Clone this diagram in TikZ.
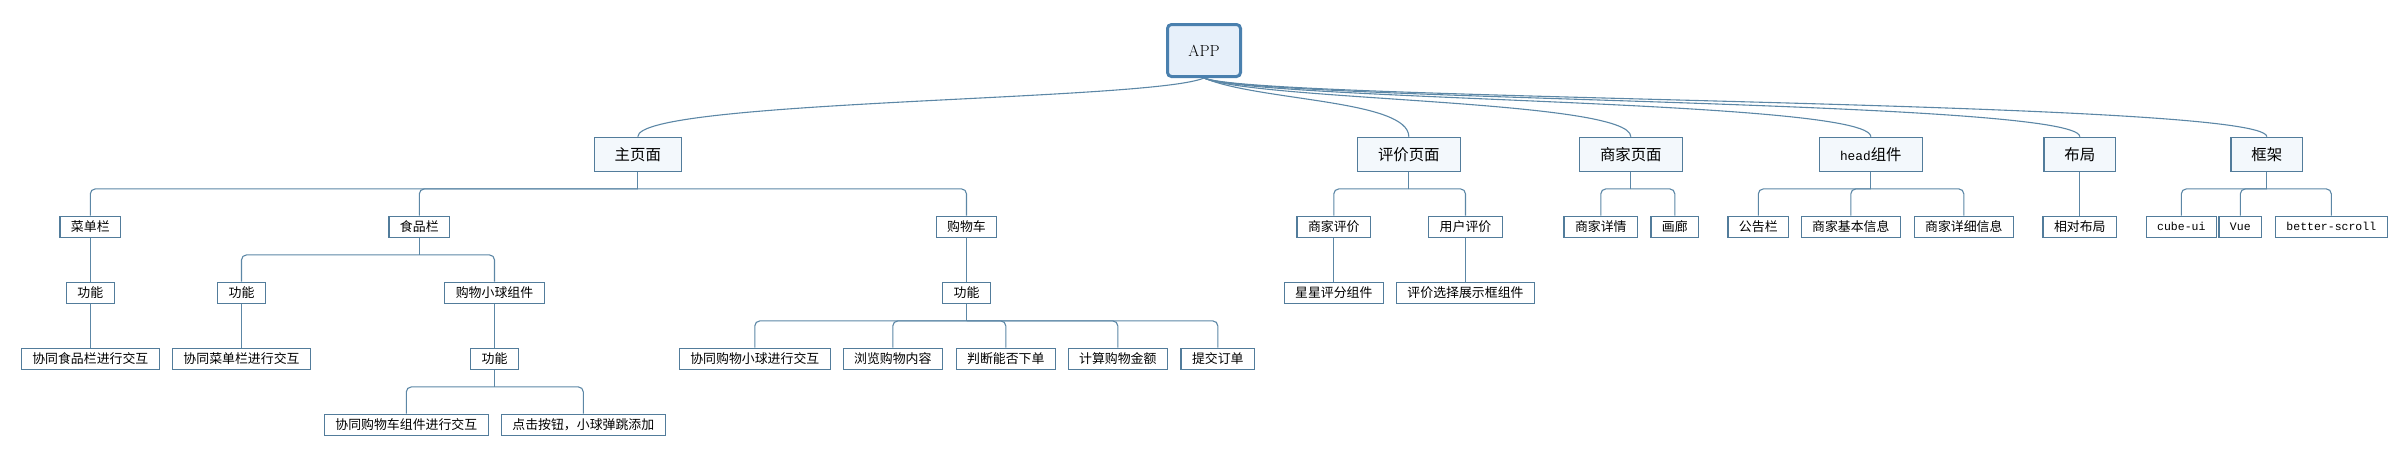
\documentclass[tikz,border=0pt]{standalone}
\usepackage{fontspec}
\newfontfamily\cjk{Noto Sans CJK SC}
\newfontfamily\mono{Liberation Mono}
\usepackage{tikz}
\usetikzlibrary{positioning, backgrounds}
\definecolor{linec}{HTML}{5C87A6}
\definecolor{boxc}{HTML}{527C9B}
\definecolor{rootc}{HTML}{4A80AE}
\definecolor{rootf}{HTML}{E7F0FA}
\definecolor{pagef}{HTML}{F3F8FC}

\begin{document}
\begin{tikzpicture}[x=1pt, y=-1pt,
    rt/.style={draw=rootc, fill=rootf, line width=3pt, rounded corners=4pt, minimum width=73pt, minimum height=52pt, inner sep=0pt, font=\fontsize{16}{18}\selectfont},
    pg/.style={draw=boxc, fill=pagef, line width=1.2pt, minimum height=34pt, inner xsep=20.5pt, inner ysep=0pt, font=\cjk\fontsize{15.4}{17}\selectfont},
    itm/.style={draw=boxc, fill=white, line width=1.2pt, minimum height=21pt, inner xsep=11pt, inner ysep=0pt, font=\cjk\fontsize{12.9}{15}\selectfont},
    lat/.style={itm, font=\mono\fontsize{11.5}{14}\selectfont},
    lnk/.style={draw=linec, line width=1.1pt, rounded corners=5pt},
    crv/.style={draw=linec, line width=1.1pt}]
    \useasboundingbox (0,0) rectangle (2408,456);
    \node[rt] (app) at (1204,50.5) {APP};
    \node[pg] (zhuye) at (637.8,154.3) {主页面};
    \node[pg] (pingjia) at (1408.8,154.3) {评价页面};
    \node[pg] (shangjia) at (1630.8,154.3) {商家页面};
    \node[pg, minimum width=103pt, inner xsep=0pt] (headc) at (1870.8,154.3) {{\mono\fontsize{12.8}{15}\selectfont head}组件};
    \node[pg] (buju) at (2079.8,154.3) {布局};
    \node[pg] (kuangjia) at (2266.8,154.3) {框架};
    \node[itm] (caidan) at (90.3,226.8) {菜单栏};
    \node[itm] (gn1) at (90.3,292.8) {功能};
    \node[itm] (xt1) at (90.3,358.8) {协同食品栏进行交互};
    \node[itm] (shipin) at (419.3,226.8) {食品栏};
    \node[itm] (gn2) at (241.5,292.8) {功能};
    \node[itm] (xt2) at (241.5,358.8) {协同菜单栏进行交互};
    \node[itm] (xiaoqiu) at (494.5,292.8) {购物小球组件};
    \node[itm] (gn4) at (494.5,358.8) {功能};
    \node[itm] (xt4) at (406.3,424.8) {协同购物车组件进行交互};
    \node[itm] (dianji) at (583.3,424.8) {点击按钮，小球弹跳添加};
    \node[itm] (gouwuche) at (966.5,226.8) {购物车};
    \node[itm] (gn3) at (966.5,292.8) {功能};
    \node[itm] (xt3) at (754.8,358.8) {协同购物小球进行交互};
    \node[itm] (liulan) at (892.8,358.8) {浏览购物内容};
    \node[itm] (panduan) at (1005.8,358.8) {判断能否下单};
    \node[itm] (jisuan) at (1117.8,358.8) {计算购物金额};
    \node[itm] (tijiao) at (1217.8,358.8) {提交订单};
    \node[itm] (sjpj) at (1333.8,226.8) {商家评价};
    \node[itm] (xingxing) at (1333.8,292.8) {星星评分组件};
    \node[itm] (yhpj) at (1465.5,226.8) {用户评价};
    \node[itm] (xuanze) at (1465.5,292.8) {评价选择展示框组件};
    \node[itm] (sjxq) at (1600.8,226.8) {商家详情};
    \node[itm] (hualang) at (1674.8,226.8) {画廊};
    \node[itm] (gonggao) at (1758.3,226.8) {公告栏};
    \node[itm] (jiben) at (1850.8,226.8) {商家基本信息};
    \node[itm] (xiangxi) at (1963.8,226.8) {商家详细信息};
    \node[itm] (xiangdui) at (2079.8,226.8) {相对布局};
    \node[lat] (cube) at (2181.3,226.8) {cube-ui};
    \node[lat] (vue) at (2240.3,226.8) {Vue};
    \node[lat] (bscroll) at (2331.3,226.8) {better-scroll};
    \begin{scope}[on background layer]
    \draw[crv] (app.south) .. controls +(-54,23) and +(0,-37) .. (zhuye.north);
    \draw[crv] (app.south) .. controls +(54,23) and +(0,-37) .. (pingjia.north);
    \draw[crv] (app.south) .. controls +(54,23) and +(0,-37) .. (shangjia.north);
    \draw[crv] (app.south) .. controls +(54,23) and +(0,-37) .. (headc.north);
    \draw[crv] (app.south) .. controls +(54,23) and +(0,-37) .. (buju.north);
    \draw[crv] (app.south) .. controls +(54,23) and +(0,-37) .. (kuangjia.north);
    \draw[lnk] (zhuye.south) -- ++(0,17) coordinate (zb);
    \draw[lnk] (zb) -| (caidan.north);
    \draw[lnk] (zb) -| (shipin.north);
    \draw[lnk] (zb) -| (gouwuche.north);
    \draw[lnk] (caidan) -- (gn1);
    \draw[lnk] (gn1) -- (xt1);
    \draw[lnk] (shipin.south) -- ++(0,17) coordinate (sb);
    \draw[lnk] (sb) -| (gn2.north);
    \draw[lnk] (sb) -| (xiaoqiu.north);
    \draw[lnk] (gn2) -- (xt2);
    \draw[lnk] (xiaoqiu) -- (gn4);
    \draw[lnk] (gn4.south) -- ++(0,17) coordinate (qb);
    \draw[lnk] (qb) -| (xt4.north);
    \draw[lnk] (qb) -| (dianji.north);
    \draw[lnk] (gouwuche) -- (gn3);
    \draw[lnk] (gn3.south) -- ++(0,17) coordinate (cb);
    \draw[lnk] (cb) -| (xt3.north);
    \draw[lnk] (cb) -| (liulan.north);
    \draw[lnk] (cb) -| (panduan.north);
    \draw[lnk] (cb) -| (jisuan.north);
    \draw[lnk] (cb) -| (tijiao.north);
    \draw[lnk] (pingjia.south) -- ++(0,17) coordinate (pb);
    \draw[lnk] (pb) -| (sjpj.north);
    \draw[lnk] (pb) -| (yhpj.north);
    \draw[lnk] (sjpj) -- (xingxing);
    \draw[lnk] (yhpj) -- (xuanze);
    \draw[lnk] (shangjia.south) -- ++(0,17) coordinate (mb);
    \draw[lnk] (mb) -| (sjxq.north);
    \draw[lnk] (mb) -| (hualang.north);
    \draw[lnk] (headc.south) -- ++(0,17) coordinate (hb);
    \draw[lnk] (hb) -| (gonggao.north);
    \draw[lnk] (hb) -| (jiben.north);
    \draw[lnk] (hb) -| (xiangxi.north);
    \draw[lnk] (buju) -- (xiangdui);
    \draw[lnk] (kuangjia.south) -- ++(0,17) coordinate (kb);
    \draw[lnk] (kb) -| (cube.north);
    \draw[lnk] (kb) -| (vue.north);
    \draw[lnk] (kb) -| (bscroll.north);
    \end{scope}
\end{tikzpicture}
\end{document}
